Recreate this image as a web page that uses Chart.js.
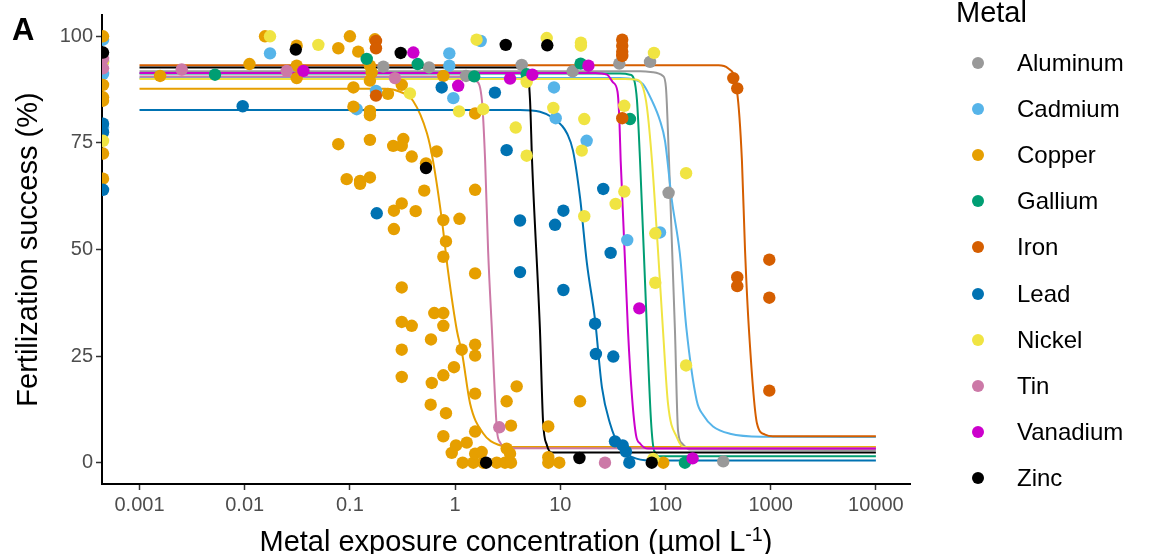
<!DOCTYPE html>
<html>
<head>
<meta charset="utf-8">
<script src="https://cdn.jsdelivr.net/npm/chart.js@4.4.1/dist/chart.umd.min.js"></script>
<style>
  body { margin: 0; background: #fff; }
  #wrap { position: relative; width: 1149px; height: 554px; font-family: "Liberation Sans", Arial, sans-serif; color: #000; }
  #chart { position: absolute; left: 0; top: 0; }
  .txt { position: absolute; white-space: nowrap; }
  #panel { left: 12px; top: 14px; font-size: 31px; line-height: 31px; font-weight: bold; }
  #xtitle { left: 112px; width: 808px; top: 520px; font-size: 29px; line-height: 29px; text-align: center; }
  #ytitle { left: -173px; width: 400px; top: 235px; font-size: 29px; line-height: 29px; text-align: center; transform: rotate(-90deg); }
  .sup { font-size: 0.68em; vertical-align: 0.5em; }
  #legtitle { left: 956px; top: -2px; font-size: 29px; line-height: 29px; }
  .key { position: absolute; width: 12px; height: 12px; border-radius: 50%; }
  .keylbl { position: absolute; font-size: 24px; line-height: 24px; white-space: nowrap; }
</style>
</head>
<body>
<div id="wrap">
  <canvas id="chart" width="1149" height="554"></canvas>
  <div class="txt" id="panel">A</div>
  <div class="txt" id="ytitle">Fertilization success (%)</div>
  <div class="txt" id="xtitle">Metal exposure concentration (µmol L<span class="sup">-1</span>)</div>
  <div class="txt" id="legtitle">Metal</div>
</div>
<script>
// controls (no added metal) sit at the far left of the log axis
const C = 0.00045;

const metals = ['Aluminum', 'Cadmium', 'Copper', 'Gallium', 'Iron', 'Lead', 'Nickel', 'Tin', 'Vanadium', 'Zinc'];
const colors = ['#999999', '#56B4E9', '#E69F00', '#009E73', '#D55E00', '#0072B2', '#F0E442', '#CC79A7', '#CC00CC', '#000000'];

const xTicks = [0.001, 0.01, 0.1, 1, 10, 100, 1000, 10000];
const xTickLabels = ['0.001', '0.01', '0.1', '1', '10', '100', '1000', '10000'];
const yTicks = [0, 25, 50, 75, 100];
const yTickLabels = ['0', '25', '50', '75', '100'];

// observed fertilization success, [concentration µmol/L, %]
const aluminumPts = [[0.208, 92.9], [0.565, 92.7], [1.27, 90.7], [4.30, 93.3], [13.1, 91.8], [36.4, 93.6],
  [71.3, 94.0], [107, 63.3], [354, 0.3]];
const cadmiumPts = [[C, 99.2], [C, 94.0], [C, 91.2], [C, 78.6], [0.0174, 96.0], [0.116, 82.9], [0.177, 87.2],
  [0.881, 96.0], [0.881, 93.1], [0.962, 85.5], [1.75, 98.9], [8.71, 88.0], [9.04, 80.8], [17.8, 75.5],
  [43.3, 52.2], [88.7, 54.0]];
const copperPts = [[C, 100], [C, 88.6], [C, 85.7], [C, 84.9], [C, 72.5], [C, 66.6],
  [0.00157, 90.7], [0.0111, 93.5], [0.0156, 100], [0.0312, 97.8], [0.0312, 93.1], [0.0312, 90.2],
  [0.0776, 97.2], [0.100, 100], [0.120, 96.4], [0.173, 99.3], [0.155, 93.1], [0.161, 91.5], [0.155, 89.6],
  [0.108, 88.0], [0.230, 86.5], [0.108, 83.5], [0.155, 82.5], [0.155, 81.5], [0.0776, 74.7], [0.155, 75.7],
  [0.0932, 66.5], [0.125, 66.1], [0.125, 65.4], [0.155, 66.9], [0.773, 90.7], [0.311, 88.6], [1.55, 81.9],
  [0.258, 74.3], [0.322, 75.9], [0.311, 74.3], [0.387, 71.8], [0.668, 73.0], [0.529, 70.2], [0.509, 63.8],
  [1.55, 64.0], [0.311, 60.8], [0.262, 59.1], [0.422, 59.0], [0.262, 54.8], [0.773, 56.9], [1.10, 57.2],
  [0.819, 51.9], [0.773, 48.3], [1.55, 44.4], [0.311, 41.1], [0.634, 35.1], [0.773, 35.1], [0.311, 33.0],
  [0.387, 32.1], [0.773, 32.1], [0.590, 28.9], [0.311, 26.5], [1.156, 26.5], [1.55, 27.7], [1.55, 25.1],
  [0.311, 20.1], [0.976, 22.4], [0.773, 20.5], [0.600, 18.7], [3.85, 17.9], [1.55, 16.2], [0.586, 13.6],
  [0.819, 11.6], [3.09, 14.4], [15.4, 14.4], [3.40, 8.7], [7.69, 8.5], [0.773, 6.2], [1.55, 7.3],
  [1.02, 4.05], [0.929, 2.3], [1.29, 4.7], [1.18, 0], [1.49, 0], [1.55, 2.1], [1.79, 2.5], [1.85, 0],
  [2.49, 0], [2.98, 0], [3.40, 0], [3.33, 2.1], [3.09, 3.3], [7.69, 1.3], [7.69, 0], [9.78, 0], [95.3, 0]];
const galliumPts = [[0.00522, 91.0], [0.1445, 94.7], [0.441, 93.5], [1.52, 90.6], [4.79, 91.1], [15.6, 93.6],
  [46.0, 80.6], [153, 0]];
const ironPts = [[0.177, 98.9], [0.177, 97.2], [0.177, 86.1], [38.8, 99.2], [38.8, 97.8], [38.8, 96.4],
  [38.8, 95.4], [38.8, 80.8], [441, 90.2], [481, 87.8], [481, 43.5], [481, 41.4], [970, 47.6], [970, 38.7],
  [970, 16.9]];
const leadPts = [[C, 79.5], [C, 77.5], [C, 64.0], [0.00957, 83.6], [0.180, 58.5], [0.746, 88.0], [2.39, 86.8],
  [3.09, 73.3], [4.14, 56.8], [4.14, 44.7], [10.7, 59.1], [8.91, 55.8], [10.7, 40.5], [25.6, 64.2],
  [30.1, 49.2], [21.4, 32.6], [21.8, 25.5], [31.9, 24.9], [33.1, 5.0], [39.2, 4.05], [42.1, 2.6], [45.3, 0]];
const nickelPts = [[C, 94.0], [C, 75.5], [0.0174, 100], [0.0501, 98.0], [0.372, 86.6], [1.09, 82.4],
  [1.85, 82.9], [1.60, 99.2], [4.79, 89.3], [7.43, 99.6], [8.58, 83.2], [3.77, 78.6], [4.79, 72.0],
  [15.7, 98.5], [15.7, 97.8], [16.9, 80.6], [16.0, 73.2], [16.9, 57.8], [40.6, 83.7], [40.6, 63.6],
  [33.6, 60.7], [77.7, 96.1], [80.0, 53.8], [80.0, 42.2], [157, 67.9], [157, 22.8], [76.6, 0.9]];
const tinPts = [[C, 94.7], [C, 92.5], [0.00252, 92.2], [0.0251, 91.9], [0.268, 90.2], [2.63, 8.3], [26.6, 0]];
const vanadiumPts = [[0.0361, 91.9], [0.401, 96.2], [1.07, 88.4], [3.33, 90.1], [5.42, 91.0], [18.5, 93.1],
  [56.4, 36.2], [181, 1.0]];
const zincPts = [[C, 96.2], [0.0306, 96.9], [0.304, 96.1], [0.529, 69.1], [3.03, 98.0], [7.52, 97.9],
  [1.97, 0], [15.2, 1.1], [74.0, 0]];

// fitted dose-response curves, [concentration, %]
const aluminumCurve = [[0.001, 91.8], [57.3, 91.8], [76.0, 91.6], [94.7, 90.7], [101, 88.0], [108, 70.8],
  [123, 31.0], [131.5, 7.6], [143.5, 4.5], [171, 3.1], [10000, 3.0]];
const cadmiumCurve = [[0.001, 90.2], [36.9, 90.2], [51.3, 89.8], [61.1, 88.8], [74.4, 84.9], [88.7, 80.2],
  [98.9, 75.5], [115, 61.5], [137, 49.0], [158, 31.5], [198, 14.6], [229, 11.1], [283, 8.5], [410, 6.8],
  [845, 6.1], [10000, 6.0]];
const copperCurve = [[0.001, 87.7], [0.216, 87.7], [0.30, 87.0], [0.398, 84.9], [0.541, 77.2], [0.617, 70.8],
  [0.75, 56.8], [0.855, 45.1], [1.04, 31.0], [1.166, 25.6], [1.388, 13.9], [1.845, 6.9], [2.67, 4.05],
  [3.55, 3.65], [10000, 3.65]];
const galliumCurve = [[0.001, 91.3], [36.9, 91.3], [46.0, 91.0], [50.1, 90.0], [53.6, 84.9], [57.3, 70.8],
  [66.7, 31.0], [72.8, 9.9], [77.8, 2.9], [88.7, 1.5], [10000, 1.5]];
const ironCurve = [[0.001, 93.2], [320, 93.2], [393, 92.5], [478, 87.2], [533, 70.8], [570, 50], [622, 31],
  [741, 9.2], [883, 6.6], [1052, 6.2], [10000, 6.2]];
const leadCurve = [[0.001, 82.7], [4.14, 82.7], [6.41, 82.3], [8.52, 80.9], [10.4, 79.0], [11.6, 77.2],
  [13.2, 73.2], [15.4, 62.2], [17.9, 46.8], [21.4, 33.5], [24.9, 17.6], [29.7, 9.2], [36.9, 3.6],
  [49.1, 1.24], [71.3, 0.54], [10000, 0.5]];
const nickelCurve = [[0.001, 90.0], [41.2, 90.0], [53.6, 89.8], [61.1, 88.0], [66.7, 83.3], [74.4, 70.8],
  [84.9, 49.7], [94.7, 31.0], [105.6, 13.9], [128.6, 5.9], [153, 3.6], [10000, 3.5]];
const tinCurve = [[0.001, 90.6], [1.24, 90.6], [1.58, 89.6], [1.80, 84.9], [1.93, 70.8], [2.06, 49.7],
  [2.24, 31], [2.50, 7.6], [2.67, 4.8], [3.11, 3.4], [10000, 3.35]];
const vanadiumCurve = [[0.001, 91.4], [21.4, 91.4], [27.8, 91.0], [31.7, 89.2], [35.0, 87.0], [36.5, 80.0],
  [37.5, 70.8], [44.0, 31.0], [48.1, 15.3], [52.5, 6.4], [57.3, 4.5], [68.2, 3.3], [10000, 3.3]];
const zincCurve = [[0.001, 92.7], [4.14, 92.7], [4.83, 91.9], [5.16, 84.9], [5.39, 70.8], [6.41, 31],
  [6.85, 9.9], [7.48, 4.05], [8.34, 2.4], [10000, 2.4]];

const pointSets = [aluminumPts, cadmiumPts, copperPts, galliumPts, ironPts, leadPts, nickelPts, tinPts, vanadiumPts, zincPts];
const curveSets = [aluminumCurve, cadmiumCurve, copperCurve, galliumCurve, ironCurve, leadCurve, nickelCurve, tinCurve, vanadiumCurve, zincCurve];

const FONT = '"Liberation Sans", Arial, sans-serif';
const toXY = arr => arr.map(([x, y]) => ({ x, y }));

const datasets = [];
metals.forEach((m, i) => {
    // fitted curve, drawn beneath all points
    datasets.push({
        label: m + ' fit',
        data: toXY(curveSets[i]),
        showLine: true,
        borderColor: colors[i],
        borderWidth: 2,
        pointRadius: 0,
        cubicInterpolationMode: 'monotone',
        fill: false,
        order: 30 - i
    });
    datasets.push({
        label: m,
        data: toXY(pointSets[i]),
        showLine: false,
        backgroundColor: colors[i],
        borderWidth: 0,
        pointRadius: 6.2,
        clip: 0,
        order: 10 - i
    });
});

new Chart(document.getElementById('chart').getContext('2d'), {
    type: 'scatter',
    data: { datasets },
    options: {
        responsive: false,
        animation: false,
        devicePixelRatio: 1,
        events: [],
        layout: { padding: { left: 0, right: 239, top: 14, bottom: 0 } },
        plugins: {
            legend: { display: false },
            tooltip: { enabled: false }
        },
        scales: {
            x: {
                type: 'logarithmic',
                min: 0.00044,
                max: 21100,
                afterBuildTicks: (scale) => { scale.ticks = xTicks.map(v => ({ value: v })); },
                afterFit: (scale) => { scale.height = 70; },
                ticks: {
                    callback: (value, index) => xTickLabels[index],
                    color: '#4d4d4d',
                    font: { family: FONT, size: 20 },
                    padding: 3,
                    maxRotation: 0,
                    autoSkip: false
                },
                grid: { drawOnChartArea: false, tickLength: 6, tickColor: '#333333', tickWidth: 1.5 },
                border: { color: '#000000', width: 2 }
            },
            y: {
                type: 'linear',
                min: -5,
                max: 105,
                afterBuildTicks: (scale) => { scale.ticks = yTicks.map(v => ({ value: v })); },
                afterFit: (scale) => { scale.width = 102; },
                ticks: {
                    callback: (value, index) => yTickLabels[index],
                    color: '#4d4d4d',
                    font: { family: FONT, size: 20 },
                    padding: 3
                },
                grid: { drawOnChartArea: false, tickLength: 6, tickColor: '#333333', tickWidth: 1.5 },
                border: { color: '#000000', width: 2 }
            }
        }
    }
});

// legend keys
const wrap = document.getElementById('wrap');
metals.forEach((m, i) => {
    const cy = 63 + i * 46.1;
    const dot = document.createElement('div');
    dot.className = 'key';
    dot.style.left = '972px';
    dot.style.top = (cy - 6) + 'px';
    dot.style.background = colors[i];
    wrap.appendChild(dot);
    const lbl = document.createElement('div');
    lbl.className = 'keylbl';
    lbl.style.left = '1017px';
    lbl.style.top = (cy - 12) + 'px';
    lbl.textContent = m;
    wrap.appendChild(lbl);
});
</script>
</body>
</html>
